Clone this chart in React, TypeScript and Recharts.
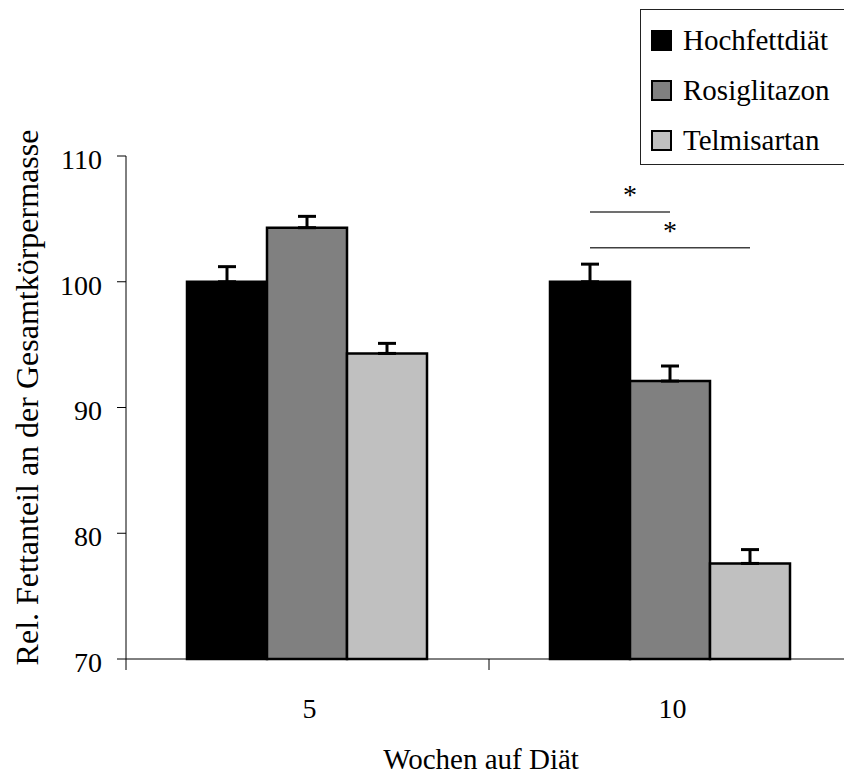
import React from "react";
import { BarChart, Bar, XAxis, YAxis, ErrorBar, Legend, LabelList } from "recharts";

const FONT = '"Liberation Serif", "Times New Roman", serif';

const weeks = ["5", "10"];
const seriesNames = ["Hochfettdiät", "Rosiglitazon", "Telmisartan"];
const hochfett = [100, 100];
const hochfettErr = [1.2, 1.4];
const rosiglitazon = [104.3, 92.1];
const rosiglitazonErr = [0.9, 1.2];
const telmisartan = [94.3, 77.6];
const telmisartanErr = [0.8, 1.1];
const yTicks = [70, 80, 90, 100, 110];

// significance brackets: from Hochfettdiät (week 10) to bar n positions further right
const sigWeek = "10";
const sigTargets = [1, 2];
const sigLevels = [105.55, 102.7];

const COLORS = ["#000000", "#808080", "#c0c0c0"];
const Y_MIN = yTicks[0];

const data = weeks.map((w, i) => ({
  week: w,
  h: hochfett[i],
  hErr: [0, hochfettErr[i]],
  r: rosiglitazon[i],
  rErr: [0, rosiglitazonErr[i]],
  t: telmisartan[i],
  tErr: [0, telmisartanErr[i]],
}));

function SigMarks(props: any) {
  const { index } = props;
  if (weeks[index] !== sigWeek) return null;
  const vb = props.viewBox ?? props;
  const { x, y, width, height } = vb;
  const ppu = height / (hochfett[index] - Y_MIN);
  const base = y + height;
  const x0 = x + width / 2;
  return (
    <g>
      {sigTargets.map((t, k) => {
        const x1 = x0 + t * width;
        const ly = base - (sigLevels[k] - Y_MIN) * ppu;
        return (
          <g key={k}>
            <line x1={x0} x2={x1} y1={ly} y2={ly} stroke="#404040" strokeWidth={1.5} />
            <text x={(x0 + x1) / 2} y={ly - 8} textAnchor="middle" fontSize={28} style={{ fontFamily: FONT }} fill="#000">
              *
            </text>
          </g>
        );
      })}
    </g>
  );
}

function WeekTick(props: any) {
  const { x, y, payload, index } = props;
  const half = payload?.offset ?? 181.5;
  const top = y - 11;
  return (
    <g>
      <line x1={x - half} x2={x - half} y1={top} y2={y} stroke="#000" />
      {index === weeks.length - 1 && <line x1={x + half} x2={x + half} y1={top} y2={y} stroke="#000" />}
      <text x={x + 2} y={y + 48} textAnchor="middle" fontSize={28} style={{ fontFamily: FONT }} fill="#000">
        {payload.value}
      </text>
    </g>
  );
}

function LegendBox({ payload }: any) {
  return (
    <div
      style={{
        boxSizing: "border-box",
        border: "1.5px solid #222",
        background: "#fff",
        width: 215,
        height: 156,
        paddingTop: 5,
        fontFamily: FONT,
      }}
    >
      {(payload ?? []).map((e: any) => (
        <div key={e.value} style={{ display: "flex", alignItems: "center", height: 50, paddingLeft: 10 }}>
          <span
            style={{
              display: "inline-block",
              width: 21,
              height: 21,
              boxSizing: "border-box",
              border: "2.5px solid #000",
              background: e.color,
              marginRight: 11,
            }}
          />
          <span style={{ fontSize: 29, lineHeight: "29px", color: "#000" }}>{e.value}</span>
        </div>
      ))}
    </div>
  );
}

export default function App() {
  return (
    <div style={{ position: "absolute", left: 0, top: 0, width: 844, height: 775, overflow: "hidden", background: "#fff" }}>
      <BarChart
        width={860}
        height={775}
        data={data}
        margin={{ top: 156, right: 8, bottom: 0, left: 0 }}
        barCategoryGap={61}
        barGap={0}
      >
        <XAxis
          dataKey="week"
          height={116}
          stroke="#000"
          tickLine={false}
          tickSize={11}
          tickMargin={0}
          tick={<WeekTick />}
          label={{
            value: "Wochen auf Diät",
            position: "insideBottom",
            offset: 6,
            dx: -8,
            style: { fontSize: 29, fontFamily: FONT, fill: "#000" },
          }}
        />
        <YAxis
          width={126}
          domain={[70, 110]}
          ticks={yTicks}
          stroke="#000"
          tickSize={9}
          tickMargin={15}
          tick={{ fill: "#000", fontSize: 28, style: { fontFamily: FONT }, dy: 3 }}
          label={{
            value: "Rel. Fettanteil an der Gesamtkörpermasse",
            angle: -90,
            position: "center",
            dx: -36,
            dy: -10,
            style: { fontSize: 32, fontFamily: FONT, fill: "#000", textAnchor: "middle" },
          }}
        />
        <Legend
          layout="vertical"
          align="center"
          verticalAlign="middle"
          wrapperStyle={{ left: 640, top: 9, width: 215, height: 156 }}
          content={<LegendBox />}
        />
        <Bar dataKey="h" name={seriesNames[0]} fill={COLORS[0]} stroke="#000" strokeWidth={2.5} isAnimationActive={false}>
          <ErrorBar dataKey="hErr" direction="y" width={9} strokeWidth={3} stroke="#000" />
          <LabelList dataKey="h" content={<SigMarks />} />
        </Bar>
        <Bar dataKey="r" name={seriesNames[1]} fill={COLORS[1]} stroke="#000" strokeWidth={2.5} isAnimationActive={false}>
          <ErrorBar dataKey="rErr" direction="y" width={9} strokeWidth={3} stroke="#000" />
        </Bar>
        <Bar dataKey="t" name={seriesNames[2]} fill={COLORS[2]} stroke="#000" strokeWidth={2.5} isAnimationActive={false}>
          <ErrorBar dataKey="tErr" direction="y" width={9} strokeWidth={3} stroke="#000" />
        </Bar>
      </BarChart>
    </div>
  );
}
